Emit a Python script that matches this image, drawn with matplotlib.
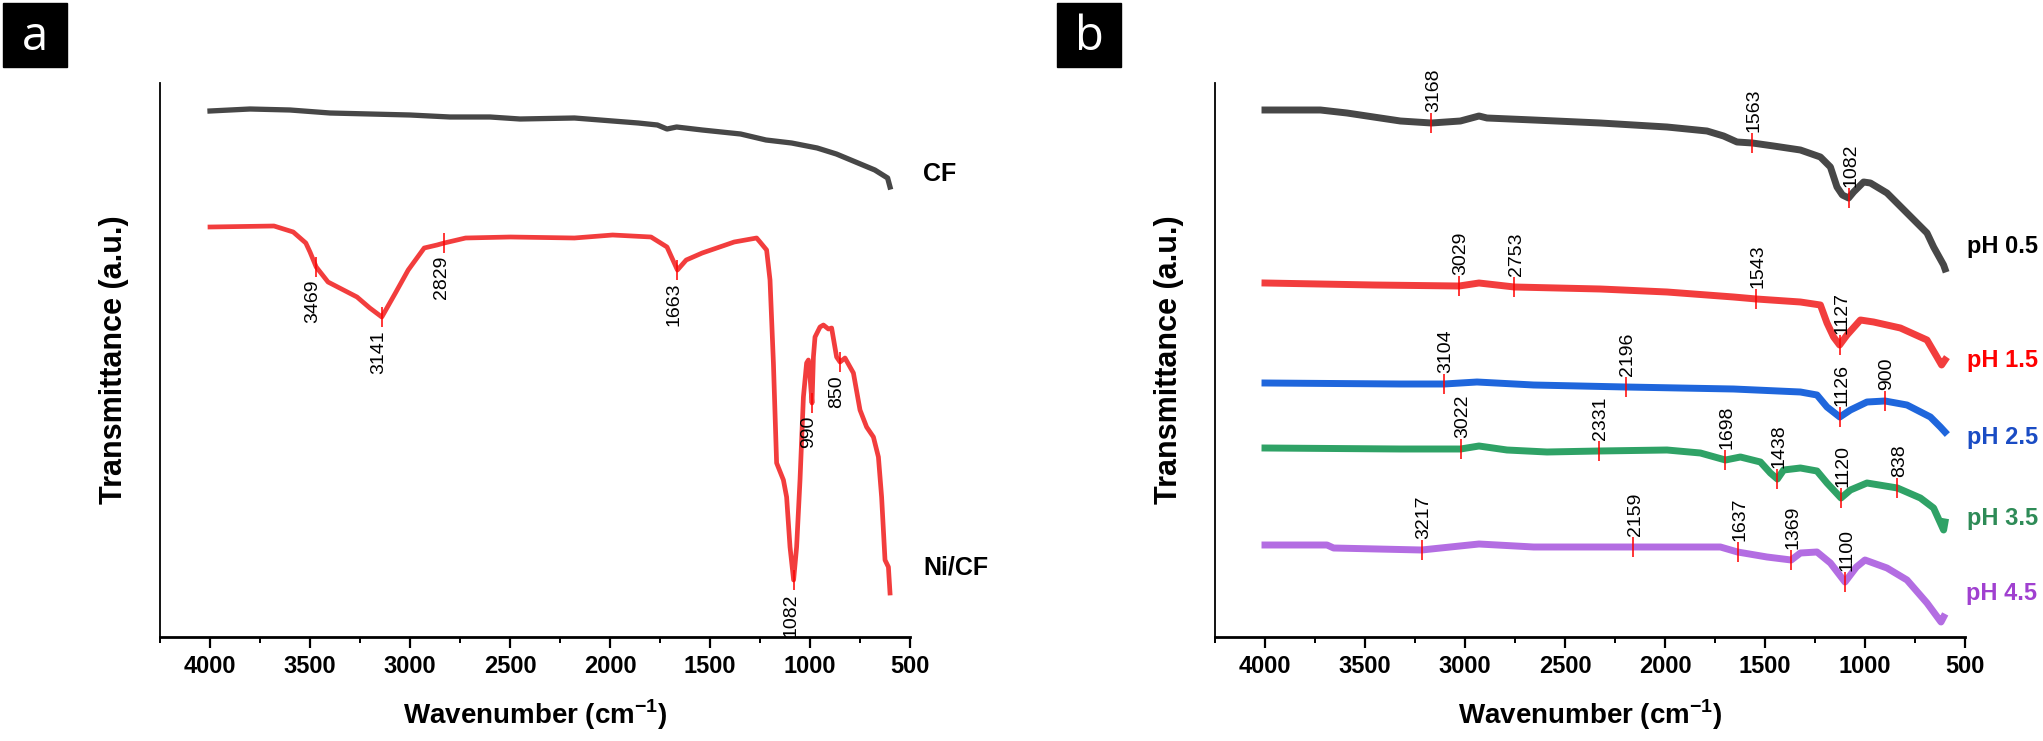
import numpy as np
import matplotlib
matplotlib.use("Agg")
import matplotlib.pyplot as plt
from matplotlib.ticker import MultipleLocator
from matplotlib.patches import Rectangle

plt.rcParams["font.family"] = ["Liberation Sans", "DejaVu Sans"]
plt.rcParams["mathtext.fontset"] = "custom"
plt.rcParams["mathtext.rm"] = "Liberation Sans"
plt.rcParams["mathtext.bf"] = "Liberation Sans:bold"

# ---- panel a : CF and Ni/CF ----
cf_wn = [4000, 3800, 3600, 3400, 3200, 3000, 2800, 2600, 2450, 2178, 1987, 1859, 1763, 1715, 1667,
         1539, 1347, 1220, 1092, 964, 868, 772, 676, 612, 600]
cf_t = [526, 528, 527, 524, 523, 522, 520, 520, 518, 519, 516, 514, 512, 508, 510,
        507, 503, 497, 494, 489, 483, 475, 467, 459, 450]

nicf_wn = [4000, 3680, 3584, 3521, 3500, 3469, 3410, 3265, 3201, 3141, 3073, 3009, 2929, 2865, 2829,
           2722, 2498, 2178, 1987, 1795, 1715, 1663, 1619, 1539, 1379, 1267, 1250, 1217, 1200, 1183,
           1167, 1133, 1117, 1100, 1082, 1067, 1050, 1033, 1017, 1008, 1000, 990, 983, 975, 950,
           933, 908, 892, 867, 850, 825, 783, 750, 717, 683, 658, 642, 625, 608, 600]
nicf_t = [410, 411, 405, 394, 385, 370, 355, 340, 329, 320, 344, 367, 389, 392, 394,
          399, 400, 399, 402, 400, 390, 367, 377, 384, 395, 399, 395, 387, 357, 274,
          174, 157, 140, 90, 57, 90, 157, 240, 274, 277, 260, 234, 280, 300, 310,
          312, 308, 309, 280, 275, 279, 264, 227, 210, 200, 180, 140, 77, 70, 44]
nicf_peaks = [3469, 3141, 2829, 1663, 1082, 990, 850]

# ---- panel b : pH series ----
ph05_wn = [4000, 3723, 3590, 3457, 3323, 3168, 3023, 2930, 2890, 2657, 2323, 1990, 1790, 1707, 1640, 1563,
           1457, 1323, 1223, 1173, 1140, 1113, 1082, 1057, 1007, 973, 890, 790, 690, 657, 607, 600]
ph05_t = [527, 527, 524, 520, 516, 514, 516, 521, 519, 517, 514, 510, 506, 501, 495, 494,
          491, 487, 480, 470, 450, 442, 439, 445, 455, 454, 444, 424, 404, 390, 372, 368]
ph05_peaks = [3168, 1563, 1082]

ph15_wn = [4000, 3457, 3029, 2930, 2753, 2323, 1990, 1657, 1543, 1323, 1223, 1190, 1157, 1127, 1090,
           1023, 957, 823, 690, 640, 617, 600]
ph15_t = [354, 352, 351, 354, 350, 348, 345, 340, 338, 335, 332, 314, 300, 292, 302,
          317, 315, 309, 297, 280, 272, 277]
ph15_peaks = [3029, 2753, 1543, 1127]

ph25_wn = [4000, 3323, 3104, 2940, 2657, 2196, 1657, 1323, 1240, 1190, 1126, 1073, 990, 900, 790, 673, 623, 600]
ph25_t = [254, 253, 253, 255, 252, 250, 248, 245, 242, 230, 220, 227, 235, 236, 232, 220, 210, 205]
ph25_peaks = [3104, 2196, 1126, 900]

ph35_wn = [4000, 3323, 3022, 2930, 2790, 2590, 2331, 1990, 1823, 1698, 1623, 1523, 1473, 1438, 1407,
           1323, 1240, 1190, 1120, 1073, 990, 838, 723, 657, 623, 607, 600]
ph35_t = [189, 188, 188, 191, 187, 185, 186, 187, 184, 177, 180, 175, 164, 158, 167,
          169, 166, 154, 139, 147, 154, 149, 139, 129, 114, 107, 115]
ph35_peaks = [3022, 2331, 1698, 1438, 1120, 838]

ph45_wn = [4000, 3690, 3657, 3217, 2930, 2657, 2159, 1723, 1637, 1490, 1369, 1323, 1240, 1173, 1100,
           1043, 1000, 890, 790, 690, 620, 607]
ph45_t = [92, 92, 89, 87, 93, 90, 90, 90, 85, 80, 77, 84, 85, 74, 55,
          70, 77, 69, 57, 34, 15, 20]
ph45_peaks = [3217, 2159, 1637, 1369, 1100]

labels_a = ["CF", "Ni/CF"]
labels_b = ["pH 0.5", "pH 1.5", "pH 2.5", "pH 3.5", "pH 4.5"]


def style_axis(ax):
    ax.set_xlim(4250, 500)
    ax.set_ylim(0, 554)
    ax.xaxis.set_major_locator(MultipleLocator(500))
    ax.xaxis.set_minor_locator(MultipleLocator(250))
    ax.set_yticks([])
    for s in ["top", "right"]:
        ax.spines[s].set_visible(False)
    ax.spines["left"].set_linewidth(1.3)
    ax.spines["bottom"].set_linewidth(2)
    ax.tick_params(axis="x", which="major", direction="out", length=8, width=1.6, pad=5, labelsize=17)
    ax.tick_params(axis="x", which="minor", direction="out", length=4, width=1.4)
    for t in ax.get_xticklabels():
        t.set_fontweight("bold")
    ax.set_xlabel("Wavenumber (cm$^{\\mathbf{-1}}$)", fontsize=20, fontweight="bold", labelpad=14)
    ax.set_ylabel("Transmittance (a.u.)", fontsize=22, fontweight="bold", labelpad=22)


def mark_peaks(ax, wn, t, peaks, below, dx=0):
    xs = np.array(wn)[::-1]
    ys = np.array(t)[::-1]
    for p in peaks:
        yc = np.interp(p, xs, ys)
        ax.vlines(p, yc - 10, yc + 10, color="red", lw=1.1, zorder=4)
        if below:
            ax.annotate(str(p), (p, yc - 10), xytext=(dx, -3), textcoords="offset pixels",
                        rotation=90, ha="center", va="top", fontsize=14, zorder=5)
        else:
            ax.annotate(str(p), (p, yc + 10), xytext=(dx, 1), textcoords="offset pixels",
                        rotation=90, ha="center", va="bottom", fontsize=14, zorder=5)


fig = plt.figure(figsize=(20.43, 7.41), dpi=100)
ax1 = fig.add_axes([0.07832, 0.14035, 0.36711, 0.74764])
ax2 = fig.add_axes([0.59471, 0.14035, 0.36711, 0.74764])

# panel a
ax1.plot(cf_wn, cf_t, color="#474747", lw=3.8)
ax1.plot(nicf_wn, nicf_t, color="#F23D3D", lw=3.4)
mark_peaks(ax1, nicf_wn, nicf_t, nicf_peaks, below=True, dx=-3)
for name, wn, t, dy in [(labels_a[0], cf_wn, cf_t, 13), (labels_a[1], nicf_wn, nicf_t, 26)]:
    ax1.annotate(name, (wn[-1], t[-1]), xytext=(33, dy), textcoords="offset pixels",
                 ha="left", va="center", fontsize=18, fontweight="bold", annotation_clip=False)
style_axis(ax1)

# panel b
series_b = [
    (ph05_wn, ph05_t, ph05_peaks, "#474747", "black", 22),
    (ph15_wn, ph15_t, ph15_peaks, "#F23D3D", "#FF0000", 0),
    (ph25_wn, ph25_t, ph25_peaks, "#1F66DC", "#1A4CC4", -5),
    (ph35_wn, ph35_t, ph35_peaks, "#2FA266", "#2E8B57", 4),
    (ph45_wn, ph45_t, ph45_peaks, "#B36DE2", "#A040D0", 24),
]
for name, (wn, t, peaks, lc, tc, dy) in zip(labels_b, series_b):
    ax2.plot(wn, t, color=lc, lw=5)
    mark_peaks(ax2, wn, t, peaks, below=False, dx=2)
    ax2.annotate(name, (wn[-1], t[-1]), xytext=(22, dy), textcoords="offset pixels",
                 ha="left", va="center", fontsize=17, fontweight="bold", color=tc,
                 annotation_clip=False)
style_axis(ax2)

# panel letters
for x0, letter in [(3, "a"), (1057, "b")]:
    fig.add_artist(Rectangle((x0 / 2043, 1 - 67 / 741), 64 / 2043, 64 / 741,
                             transform=fig.transFigure, color="black"))
    fig.text((x0 + 32) / 2043, 1 - 37 / 741, letter, color="white", fontsize=34,
             family=["Open Sans", "DejaVu Sans"], ha="center", va="center")

fig.savefig("out.png", dpi=100)
